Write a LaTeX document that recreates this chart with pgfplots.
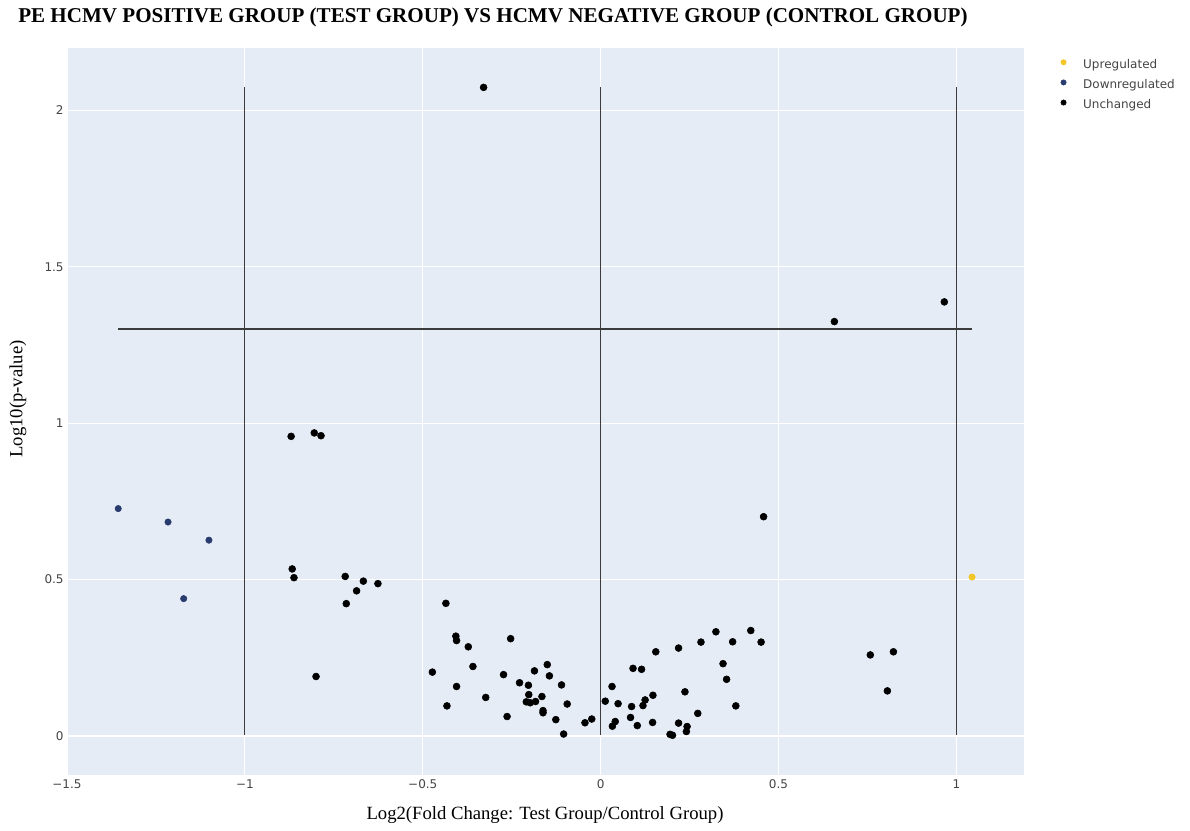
\documentclass[border=0pt]{standalone}
\usepackage{pgfplots}
\pgfplotsset{compat=1.18}
\usepackage{fontspec}
\setmainfont{Liberation Serif}
\newfontfamily\dsans{DejaVu Sans}
\definecolor{bgc}{HTML}{E5ECF6}
\definecolor{tickc}{HTML}{444444}
\definecolor{upc}{RGB}{242,197,40}
\definecolor{downc}{RGB}{40,58,110}
\definecolor{refc}{RGB}{60,60,60}

\pgfplotstableread{
x y
1.044 0.508
}\up
\pgfplotstableread{
x y
-1.356 0.727
-1.216 0.684
-1.101 0.626
-1.172 0.439
}\down
\pgfplotstableread{
x y
-0.329 2.074
0.657 1.325
0.966 1.388
0.458 0.701
0.758 0.259
0.823 0.269
0.806 0.144
-0.870 0.958
-0.805 0.969
-0.786 0.960
-0.867 0.534
-0.862 0.506
-0.718 0.510
-0.667 0.495
-0.626 0.487
-0.686 0.464
-0.715 0.423
-0.800 0.190
-0.435 0.424
-0.407 0.319
-0.405 0.305
-0.372 0.285
-0.253 0.311
-0.473 0.204
-0.359 0.222
-0.405 0.158
-0.432 0.096
-0.323 0.123
-0.273 0.196
-0.228 0.170
-0.203 0.162
-0.186 0.208
-0.150 0.228
-0.144 0.192
-0.110 0.163
-0.202 0.132
-0.209 0.109
-0.198 0.106
-0.183 0.110
-0.165 0.126
-0.162 0.081
-0.162 0.074
-0.094 0.102
-0.263 0.062
-0.126 0.052
-0.104 0.006
-0.044 0.042
-0.025 0.054
0.013 0.111
0.032 0.158
0.049 0.103
0.033 0.031
0.041 0.046
0.087 0.094
0.084 0.059
0.103 0.033
0.091 0.216
0.115 0.213
0.119 0.097
0.125 0.115
0.147 0.130
0.146 0.043
0.155 0.269
0.195 0.005
0.202 0.002
0.219 0.281
0.219 0.041
0.237 0.141
0.243 0.030
0.241 0.014
0.273 0.072
0.282 0.300
0.324 0.333
0.344 0.231
0.354 0.181
0.371 0.301
0.380 0.096
0.422 0.337
0.451 0.300
}\unch

\begin{document}
\begin{tikzpicture}
\useasboundingbox (0,0) rectangle (892.5pt,623.25pt);
\begin{axis}[
  at={(50.25pt,42pt)}, anchor=south west,
  scale only axis, width=717.75pt, height=545.25pt,
  xmin=-1.5, xmax=1.19, ymin=-0.125, ymax=2.2,
  axis background/.style={fill=bgc},
  axis line style={draw=none},
  major tick length=0pt,
  xtick={-1.5,-1,-0.5,0,0.5,1},
  xticklabels={−1.5,−1,−0.5,0,0.5,1},
  ytick={0,0.5,1,1.5,2},
  yticklabels={0,0.5,1,1.5,2},
  grid=major, grid style={white, line width=0.75pt},
  ticklabel style={font=\dsans\fontsize{9}{10}\selectfont, text=tickc},
  xticklabel style={yshift=0pt},
  yticklabel style={xshift=1pt},
  legend style={at={(1.038,0.985)}, anchor=north west, draw=none, fill=none,
    font=\dsans\fontsize{9}{10}\selectfont, text=tickc, row sep=5.8pt,
    inner sep=0pt, nodes={inner sep=0pt, text height=7pt, text depth=2.3pt}},
  legend cell align=left,
  legend image code/.code={\fill[#1] (2pt,2.3pt) circle (2pt); \path (16.5pt,0pt);},
  clip=false,
]
\addplot[white, line width=1.5pt, forget plot] coordinates {(-1.5,0) (1.19,0)};
\addplot[refc, line width=0.9pt, forget plot] coordinates {(-1,0.004) (-1,2.074)};
\addplot[refc, line width=0.9pt, forget plot] coordinates {(0,0.004) (0,2.074)};
\addplot[refc, line width=0.9pt, forget plot] coordinates {(1,0.004) (1,2.074)};
\addplot[refc, line width=0.9pt, forget plot] coordinates {(-1.356,1.301) (1.044,1.301)};
\addplot[only marks, mark=*, mark size=2.4pt, color=upc] table {\up};
\addlegendentry{Upregulated}
\addplot[only marks, mark=*, mark size=2.4pt, color=downc] table {\down};
\addlegendentry{Downregulated}
\addplot[only marks, mark=*, mark size=2.6pt, color=black] table {\unch};
\addlegendentry{Unchanged}
\end{axis}
\node[anchor=west, inner sep=0pt, font=\bfseries\fontsize{15.8}{18}\selectfont] at (13.5pt,610.5pt) {PE HCMV POSITIVE GROUP (TEST GROUP) VS HCMV NEGATIVE GROUP (CONTROL GROUP)};
\node[font=\fontsize{14}{16}\selectfont] at (408.75pt,12pt) {Log2(Fold Change: Test Group/Control Group)};
\node[rotate=90, font=\fontsize{14}{16}\selectfont] at (13.5pt,324pt) {Log10(p-value)};
\end{tikzpicture}
\end{document}
